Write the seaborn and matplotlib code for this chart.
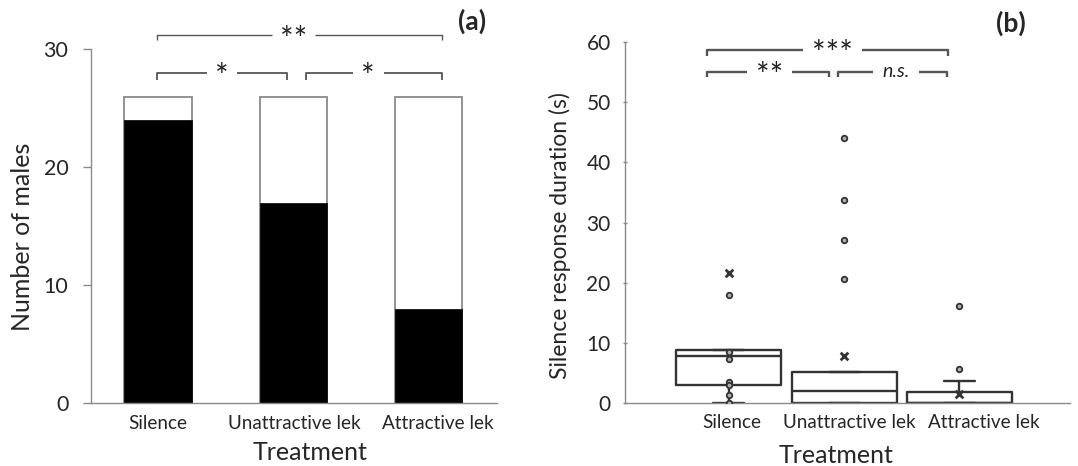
import numpy as np
import pandas as pd
import matplotlib
matplotlib.use("Agg")
import matplotlib.pyplot as plt
import seaborn as sns

# ---------------- data ----------------
treatments = ["Silence", "Unattractive lek", "Attractive lek"]
total_males = [26, 26, 26]
responding_males = [24, 17, 8]

# panel (b): box statistics
box_q1 = [3.0, 0.0, 0.0]
box_median = [7.9, 2.0, 0.0]
box_q3 = [8.9, 5.26, 1.94]
whisker_low = [0.0, 0.0, 0.0]
whisker_high = [8.9, 5.26, 3.65]

silence_points = [18.0, 8.5, 7.3, 3.6, 3.1, 1.3, 0.1]
unattractive_points = [44.1, 33.8, 27.1, 20.7]
attractive_points = [16.2, 5.75]
cross_points = [21.6, 7.8, 1.6]

yticks_a = [0, 10, 20, 30]
yticks_b = [0, 10, 20, 30, 40, 50, 60]

# ---------------- style ----------------
sns.set_theme(style="white")
plt.rcParams["font.family"] = ["Lato", "DejaVu Sans"]

SPINE = "#8a8a8a"
BOXC = "#333333"
BRK = "#555555"

fig = plt.figure(figsize=(10.78, 4.66), dpi=100)
axa = fig.add_axes([0.0841, 0.1345, 0.3766, 0.7597])
axb = fig.add_axes([0.5798, 0.1345, 0.4128, 0.776])

# ---------------- panel (a) ----------------
df_a = pd.DataFrame({"Treatment": treatments, "total": total_males,
                     "resp": responding_males})
sns.barplot(data=df_a, x="Treatment", y="total", order=treatments,
            color="white", edgecolor=SPINE, linewidth=1.3, width=0.5,
            saturation=1, errorbar=None, ax=axa)
sns.barplot(data=df_a, x="Treatment", y="resp", order=treatments,
            color="black", edgecolor="black", linewidth=0.5, width=0.5,
            saturation=1, errorbar=None, ax=axa)
axa.set_xlim(-0.5, 2.505)
axa.set_ylim(0, 30)
axa.set_yticks(yticks_a)
axa.set_yticklabels([str(v) for v in yticks_a], fontsize=15.5)
xa_off = [0.0, 0.01, 0.07]
axa.set_xticks([i + o for i, o in enumerate(xa_off)])
axa.set_xticklabels(treatments, fontsize=13.6)
axa.tick_params(axis="x", length=0, pad=8.5)
axa.tick_params(axis="y", direction="out", length=5.5, width=1, color=SPINE,
                pad=10.5, left=True)
for s in ["top", "right"]:
    axa.spines[s].set_visible(False)
for s in ["left", "bottom"]:
    axa.spines[s].set_color(SPINE)
    axa.spines[s].set_linewidth(1.0)
axa.set_xlabel("Treatment", fontsize=18)
axa.set_ylabel("Number of males", fontsize=18)
axa.xaxis.set_label_coords(0.54, -0.1376)
axa.xaxis.label.set_va("center")
axa.yaxis.set_label_coords(-0.1667, 0.47)
axa.yaxis.label.set_va("center")


def bracket(ax, x1, x2, y, ytip, tx, half, label, lw, fs, style="normal",
            dy=0.0):
    kw = dict(color=BRK, lw=lw, clip_on=False, solid_capstyle="butt")
    ax.plot([x1, x1, tx - half], [ytip, y, y], **kw)
    ax.plot([tx + half, x2, x2], [y, y, ytip], **kw)
    ax.annotate(label, (tx, y), xytext=(0, dy), textcoords="offset points",
                ha="center", va="center", fontsize=fs, fontstyle=style,
                color="#222222", annotation_clip=False)


bracket(axa, -0.011, 2.10, 31.19, 30.82, 1.0, 0.16, "**", 1.0, 23, dy=-4)
bracket(axa, -0.011, 0.955, 28.03, 27.43, 0.47, 0.11, "*", 1.3, 23, dy=-4)
bracket(axa, 1.093, 2.10, 28.03, 27.43, 1.555, 0.115, "*", 1.3, 23, dy=-4)

fig.text(0.4383, 0.9539, "(a)", fontsize=19, fontweight="bold",
         ha="center", va="center")

# ---------------- panel (b) ----------------
pts = pd.DataFrame({
    "Treatment": [treatments[0]] * len(silence_points)
    + [treatments[1]] * len(unattractive_points)
    + [treatments[2]] * len(attractive_points),
    "Duration": silence_points + unattractive_points + attractive_points,
})
crosses = pd.DataFrame({"Treatment": treatments, "Duration": cross_points})

stats = []
for i in range(len(treatments)):
    stats.append(dict(med=box_median[i], q1=box_q1[i], q3=box_q3[i],
                      whislo=whisker_low[i], whishi=whisker_high[i],
                      fliers=[], label=treatments[i]))
lp = dict(color=BOXC, linewidth=1.7)
axb.bxp(stats, positions=range(len(treatments)), widths=0.91,
        capwidths=0.27, showfliers=False, manage_ticks=False,
        boxprops=lp, medianprops=lp, whiskerprops=lp, capprops=lp)

sns.stripplot(data=pts, x="Treatment", y="Duration", order=treatments,
              jitter=False, marker="o", size=4.0, color="#b0b0b0",
              edgecolor=BOXC, linewidth=1.3, ax=axb, zorder=4)
sns.stripplot(data=crosses, x="Treatment", y="Duration", order=treatments,
              jitter=False, marker="x", size=5.5, color=BOXC,
              linewidth=2, ax=axb, zorder=4)

axb.set_xlim(-0.90, 2.96)
axb.set_ylim(0, 60)
axb.set_yticks(yticks_b)
axb.set_yticklabels([str(v) for v in yticks_b], fontsize=15)
xb_off = [0.026, 0.048, 0.21]
axb.set_xticks([i + o for i, o in enumerate(xb_off)])
axb.set_xticklabels(treatments, fontsize=13.6)
axb.tick_params(axis="x", length=0, pad=8)
axb.tick_params(axis="y", direction="inout", length=3.4, width=1,
                color=SPINE, pad=8.6, left=True)
for s in ["top", "right"]:
    axb.spines[s].set_visible(False)
for s in ["left", "bottom"]:
    axb.spines[s].set_color(SPINE)
    axb.spines[s].set_linewidth(1.0)
axb.set_xlabel("Treatment", fontsize=18)
axb.set_ylabel("Silence response duration (s)", fontsize=16.5)
axb.xaxis.set_label_coords(0.474, -0.143)
axb.xaxis.label.set_va("center")
axb.yaxis.set_label_coords(-0.146, 0.463)
axb.yaxis.label.set_va("center")

bracket(axb, -0.19, 1.90, 58.66, 57.7, 0.90, 0.255, "***", 1.7, 23, dy=-4)
bracket(axb, -0.19, 0.867, 55.05, 54.1, 0.357, 0.195, "**", 1.7, 23, dy=-4)
bracket(axb, 0.945, 1.89, 55.05, 54.1, 1.448, 0.20, "n.s.", 1.7, 14,
        style="italic", dy=0)

fig.text(0.9374, 0.9506, "(b)", fontsize=19, fontweight="bold",
         ha="center", va="center")

fig.savefig("out.png", dpi=100)
